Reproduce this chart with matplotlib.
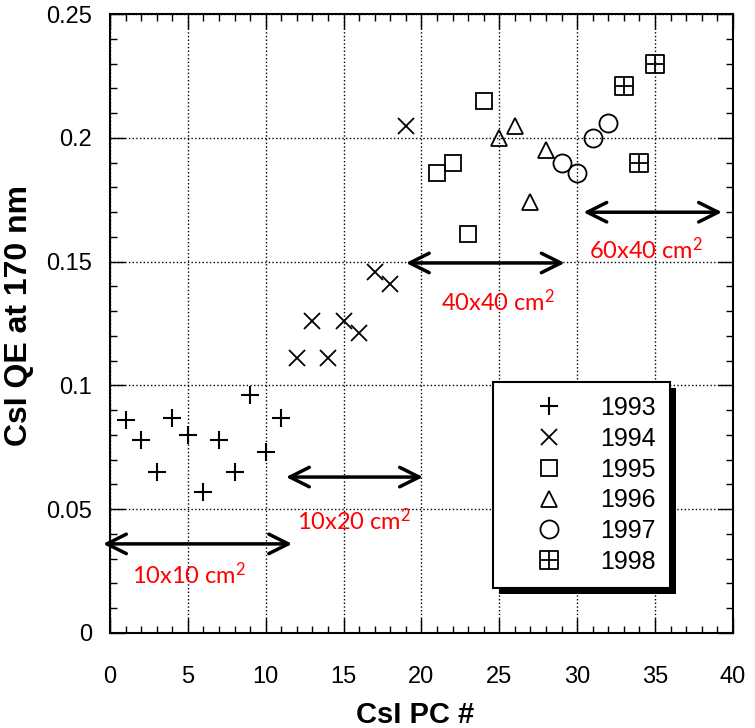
import matplotlib
matplotlib.use("Agg")
import matplotlib.pyplot as plt
from matplotlib.path import Path
from matplotlib.patches import Rectangle
from matplotlib.transforms import IdentityTransform

plt.rcParams["font.family"] = "Liberation Sans"
plt.rcParams["mathtext.fontset"] = "custom"
plt.rcParams["mathtext.rm"] = "Lato"
plt.rcParams["mathtext.it"] = "Lato"
plt.rcParams["mathtext.bf"] = "Lato:bold"

# -- QE measurements per production year --------------------------------------
pc_1993 = [1, 2, 3, 4, 5, 6, 7, 8, 9, 10, 11]
qe_1993 = [0.086, 0.078, 0.065, 0.087, 0.080, 0.057, 0.078, 0.065, 0.096, 0.073, 0.087]

pc_1994 = [12, 13, 14, 15, 16, 17, 18, 19]
qe_1994 = [0.111, 0.126, 0.111, 0.126, 0.121, 0.146, 0.141, 0.205]

pc_1995 = [21, 22, 23, 24]
qe_1995 = [0.186, 0.190, 0.161, 0.215]

pc_1996 = [25, 26, 27, 28]
qe_1996 = [0.200, 0.205, 0.174, 0.195]

pc_1997 = [29, 30, 31, 32]
qe_1997 = [0.190, 0.186, 0.200, 0.206]

pc_1998 = [33, 34, 35]
qe_1998 = [0.221, 0.190, 0.230]

# photocathode size ranges: label, start/end PC, arrow height, label position
size_labels = ["10x10 cm$^{2}$", "10x20 cm$^{2}$", "40x40 cm$^{2}$", "60x40 cm$^{2}$"]
size_start = [-0.45, 11.3, 19.0, 30.4]
size_end = [11.7, 20.1, 29.2, 39.3]
size_level = [0.036, 0.063, 0.1495, 0.170]
label_x = [5.1, 15.7, 24.9, 34.4]
label_y = [0.0235, 0.0455, 0.134, 0.155]

x_ticks = [0, 5, 10, 15, 20, 25, 30, 35, 40]
y_ticks = [0, 0.05, 0.1, 0.15, 0.2, 0.25]
y_ticklabels = ["0", "0.05", "0.1", "0.15", "0.2", "0.25"]

# square with a cross inside for 1998
box_plus = Path(
    [(-1, -1), (1, -1), (1, 1), (-1, 1), (-1, -1), (0, -1), (0, 1), (-1, 0), (1, 0)],
    [Path.MOVETO, Path.LINETO, Path.LINETO, Path.LINETO, Path.CLOSEPOLY,
     Path.MOVETO, Path.LINETO, Path.MOVETO, Path.LINETO],
)

fig = plt.figure(figsize=(7.55, 7.28), dpi=100)
ax = fig.add_axes([0.1457, 0.1305, 0.825, 0.850])

style = dict(linestyle="none", color="black", markerfacecolor="none")
ax.plot(pc_1993, qe_1993, marker="+", markersize=13, markeredgewidth=1.5, label="1993", **style)
ax.plot(pc_1994, qe_1994, marker="x", markersize=12, markeredgewidth=1.3, label="1994", **style)
ax.plot(pc_1995, qe_1995, marker="s", markersize=12, markeredgewidth=1.3, label="1995", **style)
ax.plot(pc_1996, qe_1996, marker="^", markersize=12, markeredgewidth=1.3, label="1996", **style)
ax.plot(pc_1997, qe_1997, marker="o", markersize=13, markeredgewidth=1.3, label="1997", **style)
ax.plot(pc_1998, qe_1998, marker=box_plus, markersize=13, markeredgewidth=1.3, label="1998", **style)

for lab, x0, x1, y, tx, ty in zip(size_labels, size_start, size_end, size_level, label_x, label_y):
    ax.annotate("", xy=(x1, y), xytext=(x0, y), annotation_clip=False,
                arrowprops=dict(arrowstyle="<->,head_length=1.4,head_width=0.7",
                                lw=2.5, color="black", shrinkA=0, shrinkB=0))
    ax.text(tx, ty, lab, color="red", fontsize=17, family="Lato",
            ha="center", va="center")

ax.set_xlim(0, 40)
ax.set_ylim(0, 0.25)
ax.set_xticks(x_ticks)
ax.set_yticks(y_ticks)
ax.set_yticklabels(y_ticklabels)
ax.set_xticks(range(0, 41), minor=True)
ax.set_yticks([i * 0.01 for i in range(26)], minor=True)
ax.tick_params(which="both", direction="in", top=True, right=True, width=1.0)
ax.tick_params(which="major", length=11, labelsize=17)
ax.tick_params(which="minor", length=5)
ax.tick_params(axis="x", which="major", pad=24)
ax.tick_params(axis="y", which="major", pad=13)
ax.grid(True, which="major", linestyle=":", linewidth=1.0, color="black")
for sp in ax.spines.values():
    sp.set_linewidth(1.5)

ax.set_xlabel("CsI PC #", fontsize=21, fontweight="bold")
ax.set_ylabel("CsI QE at 170 nm", fontsize=23, fontweight="bold")
ax.xaxis.set_label_coords(0.49, -0.11)
ax.yaxis.set_label_coords(-0.122, 0.513)

leg = ax.legend(loc="upper left", bbox_to_anchor=(0.615, 0.405), borderaxespad=0,
                fontsize=18, frameon=True, fancybox=False, edgecolor="black",
                framealpha=1, borderpad=0.55, handlelength=3.4, handletextpad=0.35,
                labelspacing=0.27)
leg.get_frame().set_linewidth(1.5)

# solid drop shadow under the legend box
fig.canvas.draw()
bb = leg.get_window_extent()
shadow = Rectangle((bb.x0 + 6, bb.y0 - 6), bb.width, bb.height, transform=IdentityTransform(),
                   facecolor="black", edgecolor="none", zorder=leg.get_zorder() - 0.1,
                   clip_on=False)
ax.add_patch(shadow)

fig.savefig("out.png", dpi=100, facecolor="white")
